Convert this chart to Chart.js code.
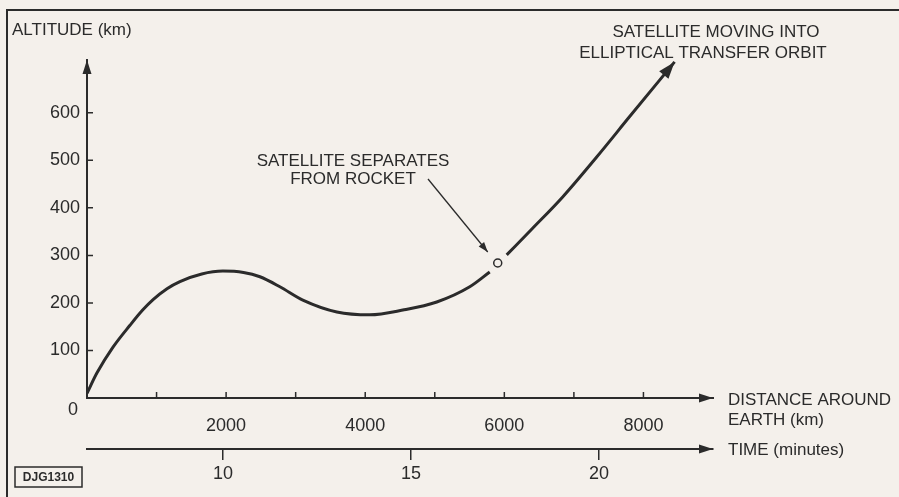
<!DOCTYPE html>
<html>
<head>
<meta charset="utf-8">
<script src="https://cdn.jsdelivr.net/npm/chart.js@4.4.0/dist/chart.umd.min.js"></script>
<style>
  html, body { margin: 0; padding: 0; background: #f4f0eb; }
  canvas { display: block; }
</style>
</head>
<body>
<canvas id="myChart" width="899" height="497"></canvas>
<script>
// launch path: altitude (km) against distance around the earth (km)
const ascentDist = [0, 144, 374, 618, 800, 950, 1150, 1336, 1650, 1954, 2250, 2486, 2773, 3103, 3592, 4066, 4540, 5029, 5503, 5790];
const ascentAlt = [10, 53, 107, 153, 185, 207, 230, 245, 261, 267, 264, 255, 234, 206, 181, 175, 185, 202, 234, 265];

const orbitDist = [6034, 6400, 6839, 7328, 7802, 8448];
const orbitAlt = [301, 356, 423, 507, 592, 707];

// where the satellite leaves the rocket
const separationDist = [5905];
const separationAlt = [284];

const altTicks = [100, 200, 300, 400, 500, 600];
const distTicks = [1000, 2000, 3000, 4000, 5000, 6000, 7000, 8000];
const distLabels = [2000, 4000, 6000, 8000];
const timeTicks = [10, 15, 20];

const altMax = 711;
const distMax = 9000;
const timeMin = 6.38;
const timeMax = 23.03;

const ink = "#2b2b2b";
const paper = "#f4f0eb";
const face = "'Liberation Sans', Arial, sans-serif";

function toPoints(xs, ys) {
  return xs.map((x, i) => ({ x: x, y: ys[i] }));
}

function arrowHead(c, x, y, angle, len, half) {
  c.save();
  c.translate(x, y);
  c.rotate(angle);
  c.beginPath();
  c.moveTo(0, 0);
  c.lineTo(-len, -half);
  c.lineTo(-len, half);
  c.closePath();
  c.fill();
  c.restore();
}

function text(c, str, x, y, size, align) {
  c.font = size + "px " + face;
  c.textAlign = align || "left";
  c.textBaseline = "middle";
  c.fillText(str, x, y);
}

const decorations = {
  id: "decorations",
  afterDraw(chart) {
    const c = chart.ctx;
    const xs = chart.scales.x;
    const ys = chart.scales.y;
    const ts = chart.scales.t;
    const area = chart.chartArea;

    c.save();
    c.strokeStyle = ink;
    c.fillStyle = ink;

    // frame
    c.lineWidth = 2;
    c.beginPath();
    c.moveTo(7, 497);
    c.lineTo(7, 10);
    c.lineTo(899, 10);
    c.stroke();

    // inner tick marks
    c.lineWidth = 1.5;
    c.beginPath();
    altTicks.forEach((v) => {
      const py = ys.getPixelForValue(v);
      c.moveTo(area.left, py);
      c.lineTo(area.left + 6, py);
    });
    distTicks.forEach((v) => {
      const px = xs.getPixelForValue(v);
      c.moveTo(px, area.bottom);
      c.lineTo(px, area.bottom - 6);
    });
    c.stroke();

    // axis arrowheads
    arrowHead(c, area.left, area.top, -Math.PI / 2, 14, 4.5);
    arrowHead(c, area.right, area.bottom, 0, 14, 4.5);
    arrowHead(c, area.right, ts.top, 0, 14, 4.5);

    // arrowhead on the orbit path
    const n = orbitDist.length;
    const x1 = xs.getPixelForValue(orbitDist[n - 2]);
    const y1 = ys.getPixelForValue(orbitAlt[n - 2]);
    const x2 = xs.getPixelForValue(orbitDist[n - 1]);
    const y2 = ys.getPixelForValue(orbitAlt[n - 1]);
    arrowHead(c, x2, y2, Math.atan2(y2 - y1, x2 - x1), 17, 6);

    // leader to the separation point
    const sx = xs.getPixelForValue(separationDist[0]) - 10;
    const sy = ys.getPixelForValue(separationAlt[0]) - 11;
    const lx = 428, ly = 179;
    c.lineWidth = 1.3;
    c.beginPath();
    c.moveTo(lx, ly);
    c.lineTo(sx, sy);
    c.stroke();
    arrowHead(c, sx, sy, Math.atan2(sy - ly, sx - lx), 10, 3.5);

    // labels
    text(c, "0", 78, 410, 18, "right");
    text(c, "ALTITUDE (km)", 12, 30, 17);
    text(c, "SATELLITE MOVING INTO", 716, 32, 17, "center");
    text(c, "ELLIPTICAL TRANSFER ORBIT", 703, 53, 17, "center");
    text(c, "SATELLITE SEPARATES", 353, 161, 17, "center");
    text(c, "FROM ROCKET", 353, 179, 17, "center");
    text(c, "DISTANCE AROUND", 728, 400, 17);
    text(c, "EARTH (km)", 728, 420, 17);
    text(c, "TIME (minutes)", 728, 450, 17);

    // drawing reference box
    c.lineWidth = 1.5;
    c.strokeRect(15, 467, 67, 20);
    c.font = "bold 12px " + face;
    c.textAlign = "center";
    c.textBaseline = "middle";
    c.fillText("DJG1310", 48.5, 477.5);

    c.restore();
  },
};

const ctx = document.getElementById("myChart");
const plain = (v) => String(v);

new Chart(ctx, {
  type: "line",
  data: {
    datasets: [
      {
        label: "Ascent",
        data: toPoints(ascentDist, ascentAlt),
        borderColor: ink,
        borderWidth: 3,
        pointRadius: 0,
        cubicInterpolationMode: "monotone",
      },
      {
        label: "Transfer orbit",
        data: toPoints(orbitDist, orbitAlt),
        borderColor: ink,
        borderWidth: 3,
        pointRadius: 0,
        cubicInterpolationMode: "monotone",
      },
      {
        label: "Separation",
        data: toPoints(separationDist, separationAlt),
        showLine: false,
        pointRadius: 4,
        pointBorderWidth: 1.5,
        pointBorderColor: ink,
        pointBackgroundColor: paper,
      },
    ],
  },
  options: {
    responsive: false,
    animation: false,
    layout: { padding: { top: 60, right: 186, bottom: 8, left: 0 } },
    plugins: {
      legend: { display: false },
      tooltip: { enabled: false },
    },
    scales: {
      x: {
        type: "linear",
        position: "bottom",
        weight: 0,
        min: 0,
        max: distMax,
        grid: { display: false },
        border: { display: true, color: ink, width: 2 },
        ticks: {
          color: ink,
          font: { family: face, size: 18 },
          padding: 9,
          maxRotation: 0,
          autoSkip: false,
          callback: plain,
        },
        afterBuildTicks: (s) => { s.ticks = distLabels.map((v) => ({ value: v })); },
        afterFit: (s) => { s.height = 51; },
      },
      t: {
        type: "linear",
        position: "bottom",
        weight: 1,
        min: timeMin,
        max: timeMax,
        grid: {
          display: true,
          drawOnChartArea: false,
          drawTicks: true,
          tickLength: 11,
          color: ink,
          lineWidth: 1.5,
        },
        border: { display: true, color: ink, width: 2 },
        ticks: {
          color: ink,
          font: { family: face, size: 18 },
          padding: 3,
          maxRotation: 0,
          autoSkip: false,
          callback: plain,
        },
        afterBuildTicks: (s) => { s.ticks = timeTicks.map((v) => ({ value: v })); },
        afterFit: (s) => { s.height = 40; },
      },
      y: {
        type: "linear",
        position: "left",
        min: 0,
        max: altMax,
        grid: { display: false, drawTicks: false },
        border: { display: true, color: ink, width: 2 },
        ticks: {
          color: ink,
          font: { family: face, size: 18 },
          padding: 7,
          callback: plain,
        },
        afterBuildTicks: (s) => { s.ticks = altTicks.map((v) => ({ value: v })); },
        afterFit: (s) => { s.width = 87; },
      },
    },
  },
  plugins: [decorations],
});
</script>
</body>
</html>
